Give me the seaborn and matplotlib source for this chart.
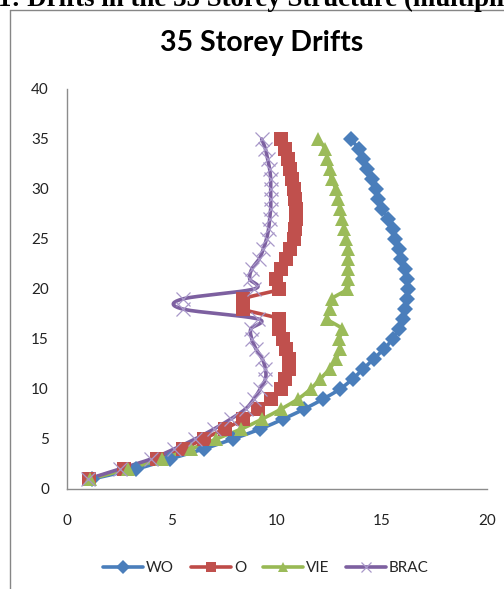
import numpy as np
import matplotlib
matplotlib.use("Agg")
import matplotlib.pyplot as plt
import seaborn as sns
from matplotlib.lines import Line2D

# storeys (y) and drift values (x)
storeys = [1, 2, 3, 4, 5, 6, 7, 8, 9, 10, 11, 12, 13, 14, 15, 16, 17, 18,
           19, 20, 21, 22, 23, 24, 25, 26, 27, 28, 29, 30, 31, 32, 33, 34, 35]
wo = [1.2, 3.3, 4.9, 6.5, 7.9, 9.2, 10.3, 11.3, 12.2, 13.0, 13.6, 14.1, 14.6,
      15.1, 15.5, 15.8, 16.0, 16.1, 16.2, 16.25, 16.2, 16.1, 15.9, 15.8, 15.6,
      15.5, 15.3, 15.0, 14.8, 14.7, 14.5, 14.3, 14.1, 13.9, 13.5]
o = [1.05, 2.7, 4.3, 5.5, 6.5, 7.5, 8.4, 9.1, 9.7, 10.2, 10.4, 10.55, 10.55,
     10.45, 10.3, 10.1, 10.1, 8.4, 8.4, 10.1, 9.95, 10.2, 10.45, 10.6, 10.8,
     10.85, 10.9, 10.9, 10.85, 10.8, 10.7, 10.6, 10.5, 10.4, 10.2]
vie = [1.1, 2.9, 4.5, 5.9, 7.1, 8.3, 9.3, 10.2, 11.0, 11.6, 12.05, 12.5, 12.8,
       13.0, 12.95, 13.1, 12.4, 12.5, 12.6, 13.35, 13.4, 13.4, 13.4, 13.4,
       13.3, 13.2, 13.1, 13.0, 12.9, 12.8, 12.6, 12.5, 12.4, 12.3, 11.95]
brac = [1.0, 2.5, 4.0, 5.1, 6.1, 7.0, 7.8, 8.5, 8.9, 9.2, 9.45, 9.45, 9.3,
        9.0, 8.8, 8.75, 9.1, 5.5, 5.5, 8.9, 8.7, 8.8, 9.15, 9.35, 9.5, 9.6,
        9.65, 9.7, 9.7, 9.7, 9.7, 9.65, 9.55, 9.45, 9.27]

series_names = ["WO", "O", "VIE", "BRAC"]
series_vals = [wo, o, vie, brac]


def smooth(xs, ys, n=20):
    """Excel-like smoothed line (Catmull-Rom as cubic Bezier)."""
    p = np.column_stack([xs, ys]).astype(float)
    p = np.vstack([p[0], p, p[-1]])
    t = np.linspace(0, 1, n)[:, None]
    out = []
    for i in range(1, len(p) - 2):
        p0, p3 = p[i], p[i + 1]
        c1 = p0 + (p[i + 1] - p[i - 1]) / 6
        c2 = p3 - (p[i + 2] - p[i]) / 6
        seg = ((1 - t) ** 3) * p0 + 3 * ((1 - t) ** 2) * t * c1 \
            + 3 * (1 - t) * t ** 2 * c2 + t ** 3 * p3
        out.append(seg if i == 1 else seg[1:])
    out = np.vstack(out)
    return out[:, 0], out[:, 1]


sns.set_theme(style="white")
plt.rcParams["font.family"] = ["Lato", "DejaVu Sans"]

fig = plt.figure(figsize=(5.04, 5.89), dpi=100)
ax = fig.add_axes([67 / 504, 1 - 489 / 589, 420 / 504, 400 / 589])

styles = [
    dict(line="#4A7EBB", mfc="#4A7EBB", marker="D", ms=8, mew=0),
    dict(line="#BE4B48", mfc="#C0504D", marker="s", ms=10, mew=0),
    dict(line="#98B954", mfc="#9BBB59", marker="^", ms=10.5, mew=0),
    dict(line="#7D60A0", mfc="#A897C9", marker="x", ms=10, mew=0.9),
]

handles = []
for name, vals, st in zip(series_names, series_vals, styles):
    sx, sy = smooth(vals, storeys)
    sns.lineplot(x=sx, y=sy, sort=False, estimator=None, ax=ax,
                 color=st["line"], linewidth=2.6, zorder=2)
    if st["marker"] == "x":
        ax.plot(vals, storeys, linestyle="none", marker="x",
                markersize=st["ms"], markeredgewidth=st["mew"],
                color=st["mfc"], zorder=3)
    else:
        ax.plot(vals, storeys, linestyle="none", marker=st["marker"],
                markersize=st["ms"], markerfacecolor=st["mfc"],
                markeredgewidth=0, zorder=3)
    handles.append(Line2D([], [], color=st["line"], linewidth=2.6,
                          marker=st["marker"], markersize=7,
                          markerfacecolor=st["mfc"],
                          markeredgecolor=st["mfc"] if st["marker"] == "x" else "none",
                          markeredgewidth=st["mew"] if st["marker"] == "x" else 0,
                          label=name))

ax.set_xlim(0, 20)
ax.set_ylim(0, 40)
ax.set_xticks([0, 5, 10, 15, 20])
ax.set_yticks([0, 5, 10, 15, 20, 25, 30, 35, 40])
ax.tick_params(axis="both", length=0, labelsize=11, colors="#222222")
ax.tick_params(axis="x", pad=18)
ax.tick_params(axis="y", pad=13)
ax.set_xlabel("")
ax.set_ylabel("")
for s in ["top", "right"]:
    ax.spines[s].set_visible(False)
for s in ["left", "bottom"]:
    ax.spines[s].set_color("#8c8c8c")
    ax.spines[s].set_linewidth(1.0)
ax.grid(False)

fig.text(262 / 504, 1 - 43 / 589, "35 Storey Drifts", ha="center", va="center",
         fontsize=20.5, fontweight="bold", color="#000000")

fig.legend(handles=handles, loc="center", bbox_to_anchor=(266 / 504, 1 - 568 / 589),
           ncol=4, frameon=False, fontsize=11, handlelength=2.6,
           handletextpad=0.2, columnspacing=1.1)

# caption text cut off by the crop above the chart
fig.text(-2 / 504, 1 - 6 / 589, "1: Drifts in the 35 Storey Structure (multiplied by",
         ha="left", va="baseline", fontsize=19.4, fontweight="bold",
         family=["Liberation Serif", "DejaVu Serif"], color="black")

# chart border (cropped on right and bottom)
fig.add_artist(Line2D([10 / 504, 1.0], [1 - 10 / 589, 1 - 10 / 589],
                      transform=fig.transFigure, color="#868686", linewidth=1))
fig.add_artist(Line2D([10 / 504, 10 / 504], [0.0, 1 - 10 / 589],
                      transform=fig.transFigure, color="#868686", linewidth=1))

fig.savefig("out.png", dpi=100)
